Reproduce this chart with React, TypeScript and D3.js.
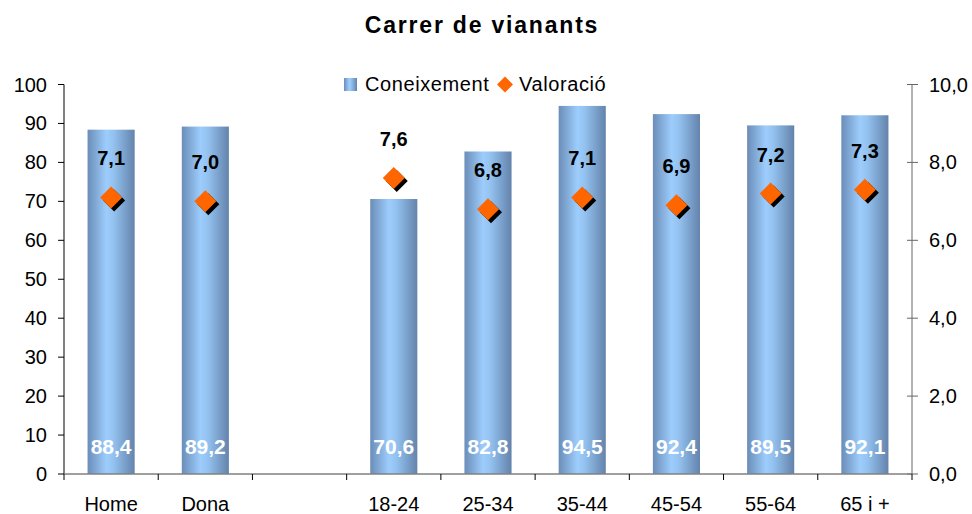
import React from "react";
import * as d3 from "d3";

const categories = ["Home", "Dona", "", "18-24", "25-34", "35-44", "45-54", "55-64", "65 i +"];
const coneixement: (number | null)[] = [88.4, 89.2, null, 70.6, 82.8, 94.5, 92.4, 89.5, 92.1];
const valoracio: (number | null)[] = [7.1, 7.0, null, 7.6, 6.8, 7.1, 6.9, 7.2, 7.3];
const leftTicks = [0, 10, 20, 30, 40, 50, 60, 70, 80, 90, 100];
const rightTicks = [0, 2, 4, 6, 8, 10];

const W = 972;
const H = 514;
const M = { left: 64, right: 912, top: 84.5, bottom: 474 };
const FONT = "Liberation Sans, Arial, sans-serif";
const fmt = (v: number, d: number) => v.toFixed(d).replace(".", ",");

export default function App() {
  const x = d3.scaleBand<string>().domain(categories.map((c, i) => String(i))).range([M.left, M.right]).paddingInner(0.5).paddingOuter(0.25);
  const xOuter = d3.scaleBand<string>().domain(categories.map((c, i) => String(i))).range([M.left, M.right]);
  const yL = d3.scaleLinear().domain([0, 100]).range([M.bottom, M.top]);
  const yR = d3.scaleLinear().domain([0, 10]).range([M.bottom, M.top]);
  const bw = x.bandwidth();
  const diamond = (cx: number, cy: number, r: number) => `M${cx},${cy - r}L${cx + r},${cy}L${cx},${cy + r}L${cx - r},${cy}Z`;
  const boundaries = d3.range(categories.length + 1).map((i) => M.left + i * xOuter.step());

  return (
    <svg width={W} height={H} style={{ position: "absolute", left: 0, top: 0, background: "#fff" }} fontFamily={FONT}>
      <defs>
        <linearGradient id="barGrad" x1="0" x2="1" y1="0" y2="0">
          <stop offset="0" stopColor="#6b8db8" />
          <stop offset="0.4" stopColor="#9dcdfd" />
          <stop offset="0.55" stopColor="#94c2f0" />
          <stop offset="1" stopColor="#6383ab" />
        </linearGradient>
      </defs>
      <rect width={W} height={H} fill="#fff" />
      <text x={482} y={33} textAnchor="middle" fontSize={23} fontWeight="bold" letterSpacing={1.8} fill="#000">Carrer de vianants</text>

      {/* bars */}
      {coneixement.map((v, i) =>
        v == null ? null : (
          <rect key={"b" + i} x={x(String(i))} y={yL(v)} width={bw} height={yL(0) - yL(v)} fill="url(#barGrad)" />
        )
      )}

      {/* axes */}
      <line x1={M.left} x2={M.left} y1={M.top} y2={M.bottom} stroke="#000" strokeWidth={1} />
      {leftTicks.map((t) => (
        <g key={"lt" + t}>
          <line x1={M.left - 6} x2={M.left} y1={yL(t)} y2={yL(t)} stroke="#000" />
          <text x={47} y={yL(t) + 7} textAnchor="end" fontSize={20} fill="#000">{t}</text>
        </g>
      ))}
      <line x1={M.right} x2={M.right} y1={M.top} y2={M.bottom} stroke="#666" strokeWidth={1} />
      {rightTicks.map((t) => (
        <g key={"rt" + t}>
          <line x1={M.right - 5} x2={M.right + 6} y1={yR(t)} y2={yR(t)} stroke="#666" />
          <text x={929} y={yR(t) + 7} textAnchor="start" fontSize={20} fill="#000">{fmt(t, 1)}</text>
        </g>
      ))}
      <line x1={M.left} x2={M.right} y1={M.bottom} y2={M.bottom} stroke="#808080" strokeWidth={1.5} />
      {boundaries.map((bx, i) => (
        <line key={"ct" + i} x1={bx} x2={bx} y1={M.bottom} y2={M.bottom + 6} stroke="#000" />
      ))}
      {categories.map((c, i) => (
        <text key={"cl" + i} x={(xOuter(String(i)) as number) + xOuter.bandwidth() / 2} y={511} textAnchor="middle" fontSize={20} fill="#000">{c}</text>
      ))}

      {/* bar labels */}
      {coneixement.map((v, i) =>
        v == null ? null : (
          <text key={"bl" + i} x={(x(String(i)) as number) + bw / 2} y={454} textAnchor="middle" fontSize={21} fontWeight="bold" fill="#fff">{fmt(v, 1)}</text>
        )
      )}

      {/* diamonds */}
      {valoracio.map((v, i) => {
        if (v == null) return null;
        const cx = (x(String(i)) as number) + bw / 2;
        const cy = yR(v);
        return (
          <g key={"d" + i}>
            <path d={diamond(cx + 3, cy + 3, 11)} fill="#000" />
            <path d={diamond(cx, cy, 11)} fill="#ff6600" />
            <text x={cx} y={cy - 32} textAnchor="middle" fontSize={20} fontWeight="bold" fill="#000">{fmt(v, 1)}</text>
          </g>
        );
      })}

      {/* legend */}
      <rect x={344} y={78} width={13} height={13} fill="url(#barGrad)" />
      <text x={365} y={91} fontSize={20} letterSpacing={0.6} fill="#000">Coneixement</text>
      <path d={diamond(505, 84.5, 8)} fill="#ff6600" />
      <text x={519} y={91} fontSize={20} letterSpacing={0.6} fill="#000">Valoració</text>
    </svg>
  );
}
